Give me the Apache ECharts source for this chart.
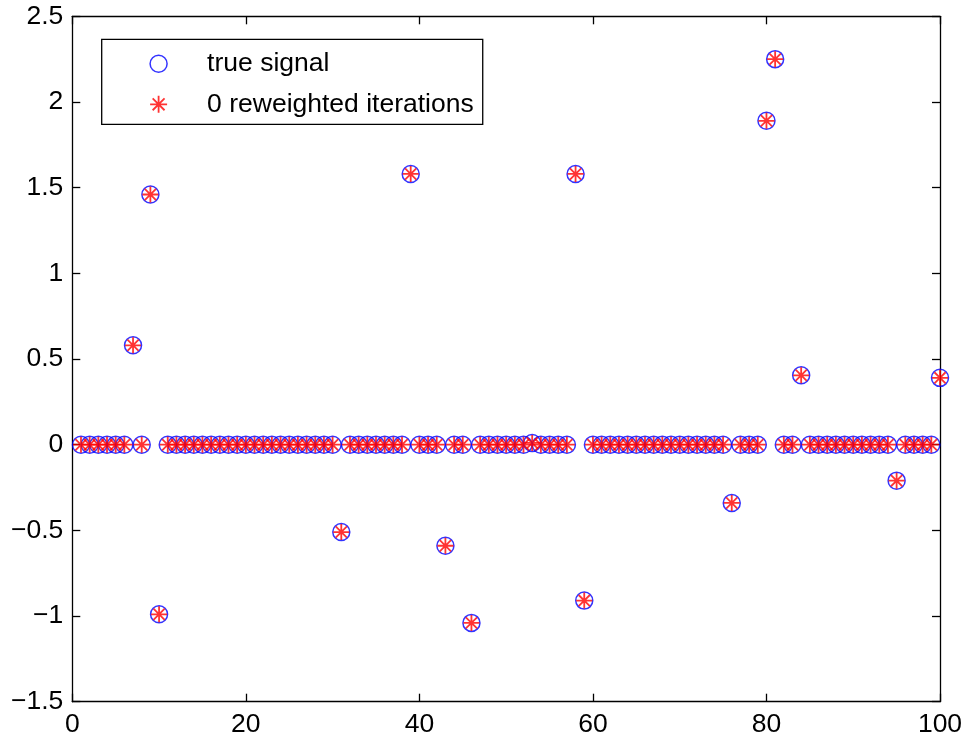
<!DOCTYPE html>
<html>
<head>
<meta charset="utf-8">
<script src="https://cdn.jsdelivr.net/npm/echarts@6/dist/echarts.min.js"></script>
<style>
html,body{margin:0;padding:0;background:#fff;}
#c{width:969px;height:745px;}
</style>
</head>
<body>
<div id="c"></div>
<script>
// sample indices
const xValues = [
  1,2,3,4,5,6,7,8,9,10,
  11,12,13,14,15,16,17,18,19,20,
  21,22,23,24,25,26,27,28,29,30,
  31,32,33,34,35,36,37,38,39,40,
  41,42,43,44,45,46,47,48,49,50,
  51,52,53,54,55,56,57,58,59,60,
  61,62,63,64,65,66,67,68,69,70,
  71,72,73,74,75,76,77,78,79,80,
  81,82,83,84,85,86,87,88,89,90,
  91,92,93,94,95,96,97,98,99,100
];
// true signal
const trueSignal = [
  0,0,0,0,0,0,0.58,0,1.46,-0.99,
  0,0,0,0,0,0,0,0,0,0,
  0,0,0,0,0,0,0,0,0,0,
  -0.51,0,0,0,0,0,0,0,1.58,0,
  0,0,-0.59,0,0,-1.04,0,0,0,0,
  0,0,0.01,0,0,0,0,1.58,-0.91,0,
  0,0,0,0,0,0,0,0,0,0,
  0,0,0,0,0,-0.34,0,0,0,1.89,
  2.25,0,0,0.405,0,0,0,0,0,0,
  0,0,0,0,-0.21,0,0,0,0,0.39
];
// estimate after 0 reweighted iterations
const estimate0 = [
  0,0,0,0,0,0,0.58,0,1.46,-0.99,
  0,0,0,0,0,0,0,0,0,0,
  0,0,0,0,0,0,0,0,0,0,
  -0.51,0,0,0,0,0,0,0,1.58,0,
  0,0,-0.59,0,0,-1.04,0,0,0,0,
  0,0,0.01,0,0,0,0,1.58,-0.91,0,
  0,0,0,0,0,0,0,0,0,0,
  0,0,0,0,0,-0.34,0,0,0,1.89,
  2.25,0,0,0.405,0,0,0,0,0,0,
  0,0,0,0,-0.21,0,0,0,0,0.39
];
const seriesNames = ['true signal', '0 reweighted iterations'];
const xTicks = [0, 20, 40, 60, 80, 100];
const yTicks = [-1.5, -1, -0.5, 0, 0.5, 1, 1.5, 2, 2.5];

const FONT = 'Liberation Sans';
const FS = 26.5;
const starPath = 'path://M0,-1L0,1M-1,0L1,0M-0.7,-0.7L0.7,0.7M-0.7,0.7L0.7,-0.7';
const circleStyle = {color: 'rgba(0,0,0,0)', borderColor: '#0000ff', borderWidth: 1.5};
const starStyle = {color: 'rgba(0,0,0,0)', borderColor: '#ff0000', borderWidth: 1.8};

function pairs(xs, ys){ return xs.map((x,i)=>[x, ys[i]]); }

const axisCommon = {
  type: 'value',
  axisLine: {show: true, onZero: false, lineStyle: {color: '#000', width: 1.3}},
  axisTick: {show: true, inside: true, length: 8, lineStyle: {color: '#000', width: 1.3}},
  splitLine: {show: false}
};

const chart = echarts.init(document.getElementById('c'), null, {renderer: 'canvas'});
chart.setOption({
  animation: false,
  backgroundColor: '#fff',
  grid: {left: 72.3, right: 29, top: 16.3, bottom: 43.3, containLabel: false},
  xAxis: [
    Object.assign({}, axisCommon, {
      position: 'bottom', min: xTicks[0], max: xTicks[xTicks.length-1], interval: 20,
      axisLabel: {show: true, color: '#000', fontFamily: FONT, fontSize: FS, margin: 9}
    }),
    Object.assign({}, axisCommon, {
      position: 'top', min: xTicks[0], max: xTicks[xTicks.length-1], interval: 20,
      axisLabel: {show: false}
    })
  ],
  yAxis: [
    Object.assign({}, axisCommon, {
      position: 'left', min: yTicks[0], max: yTicks[yTicks.length-1], interval: 0.5,
      axisLabel: {show: true, color: '#000', fontFamily: FONT, fontSize: FS, margin: 9,
        formatter: v => String(v).replace('-', '\u2212')}
    }),
    Object.assign({}, axisCommon, {
      position: 'right', min: yTicks[0], max: yTicks[yTicks.length-1], interval: 0.5,
      axisLabel: {show: false}
    })
  ],
  legend: {
    show: true,
    orient: 'vertical',
    left: 101.7,
    top: 39.3,
    padding: [11, 9, 6.5, 47.5],
    borderColor: '#000',
    borderWidth: 1.3,
    backgroundColor: '#fff',
    itemWidth: 87,
    itemHeight: 17,
    itemGap: 13.5,
    textStyle: {color: '#000', fontFamily: FONT, fontSize: FS},
    data: [
      {name: seriesNames[0], icon: 'circle', itemStyle: circleStyle},
      {name: seriesNames[1], icon: starPath, itemStyle: starStyle}
    ]
  },
  series: [
    {
      name: seriesNames[0], type: 'scatter', clip: false,
      symbol: 'circle', symbolSize: 17,
      itemStyle: circleStyle,
      emphasis: {disabled: true},
      data: pairs(xValues, trueSignal)
    },
    {
      name: seriesNames[1], type: 'scatter', clip: false,
      symbol: starPath, symbolSize: 16,
      itemStyle: starStyle,
      emphasis: {disabled: true},
      data: pairs(xValues, estimate0)
    }
  ]
});
</script>
</body>
</html>
